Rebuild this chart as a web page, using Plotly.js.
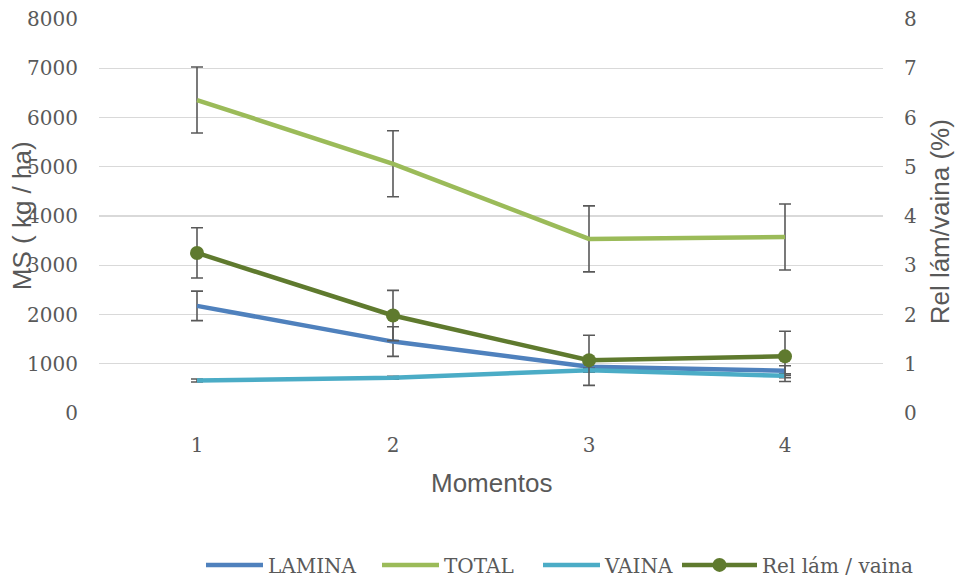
<!DOCTYPE html>
<html><head><meta charset="utf-8">
<script src="https://cdn.plot.ly/plotly-3.0.1.min.js"></script>
<style>body{margin:0;background:#fff}#c{width:956px;height:580px}</style>
</head><body><div id="c"></div>
<script>
const momentos = [1, 2, 3, 4];
const lamina = [2175, 1450, 940, 860];
const laminaErr = [300, 300, 100, 100];
const total = [6355, 5060, 3535, 3575];
const totalErr = [670, 670, 670, 670];
const vaina = [660, 715, 870, 755];
const vainaErr = [30, 30, 40, 40];
const rel = [3.25, 1.98, 1.07, 1.15];
const relErr = [0.51, 0.51, 0.51, 0.51];

const errStyle = (arr) => ({type:'data', array:arr, visible:true, color:'#595959', thickness:1.6, width:6});
const tickFont = {family:'DejaVu Serif, Liberation Serif, serif', size:20, color:'#595959'};
const titleFont = {family:'Liberation Sans, Arial, sans-serif', size:26, color:'#595959'};

const traces = [
  {x:momentos, y:lamina, name:'LAMINA', legend:'legend', mode:'lines', line:{color:'#4f81bd', width:4.5}, error_y:errStyle(laminaErr)},
  {x:momentos, y:total, name:'TOTAL', legend:'legend2', mode:'lines', line:{color:'#9bbb59', width:4.5}, error_y:errStyle(totalErr)},
  {x:momentos, y:vaina, name:'VAINA', legend:'legend3', mode:'lines', line:{color:'#4bacc6', width:4.5}, error_y:errStyle(vainaErr)},
  {x:momentos, y:rel, name:'Rel lám / vaina', legend:'legend4', mode:'lines+markers', yaxis:'y2', line:{color:'#5f7a2e', width:4.5}, marker:{color:'#5f7a2e', size:14}, error_y:errStyle(relErr)}
];

const leg = (px, iw) => ({orientation:'h', xref:'container', yref:'container', x:px/956, xanchor:'left', y:0.026, yanchor:'middle', font:tickFont, itemwidth:iw, bgcolor:'rgba(0,0,0,0)'});

const layout = {
  width:956, height:580,
  margin:{l:99, r:73, t:19, b:167},
  paper_bgcolor:'#fff', plot_bgcolor:'#fff',
  showlegend:true,
  legend:leg(201, 57), legend2:leg(377, 57), legend3:leg(538, 57), legend4:leg(677, 75),
  xaxis:{range:[0.5,4.5], tickvals:momentos, ticktext:momentos.map(String), showgrid:false, zeroline:false, showline:false, ticks:'', tickfont:tickFont, ticklabelstandoff:18},
  yaxis:{range:[0,8000], dtick:1000, showgrid:true, gridcolor:'#d9d9d9', gridwidth:1.3, zeroline:false, showline:false, ticks:'', tickfont:tickFont, ticklabelstandoff:20},
  yaxis2:{range:[0,8], dtick:1, overlaying:'y', side:'right', showgrid:false, zeroline:false, showline:false, ticks:'', tickfont:tickFont, ticklabelstandoff:20},
  annotations:[
    {text:'Momentos', xref:'paper', yref:'paper', x:0.5, y:-0.178, xanchor:'center', yanchor:'middle', showarrow:false, font:titleFont},
    {text:'MS ( kg / ha)', xref:'paper', yref:'paper', x:-0.098, y:0.5, xanchor:'center', yanchor:'middle', textangle:-90, showarrow:false, font:titleFont},
    {text:'Rel lám/vaina (%)', xref:'paper', yref:'paper', x:1.072, y:0.485, xanchor:'center', yanchor:'middle', textangle:-90, showarrow:false, font:titleFont}
  ]
};
Plotly.newPlot('c', traces, layout, {displayModeBar:false, staticPlot:true});
</script>
</body></html>
